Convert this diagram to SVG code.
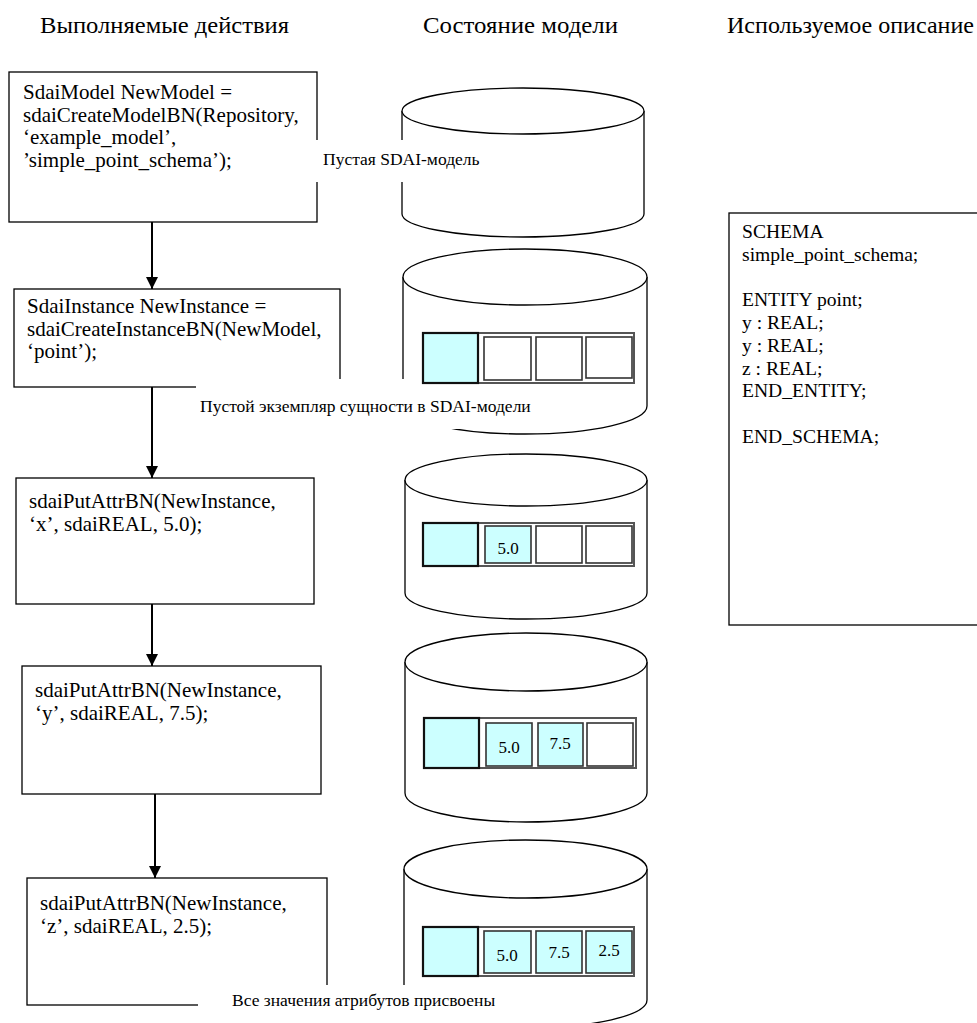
<svg xmlns="http://www.w3.org/2000/svg" width="977" height="1023" viewBox="0 0 977 1023">
  <style>
    .hdr { font-family: "Liberation Serif", "Times New Roman", serif; font-size: 23px; fill: #000; }
    .code { font-family: "Liberation Serif", "Times New Roman", serif; font-size: 21px; fill: #000; }
    .schema { font-family: "Liberation Serif", "Times New Roman", serif; font-size: 19.6px; fill: #000; }
    .note { font-family: "Liberation Serif", "Times New Roman", serif; font-size: 17.5px; fill: #000; }
    .val { font-family: "Liberation Serif", "Times New Roman", serif; font-size: 17px; fill: #000; text-anchor: middle; }
    .box { fill: #fff; stroke: #000; stroke-width: 1.3; }
    .can { fill: #fff; stroke: #000; stroke-width: 1.3; }
    .rec { fill: #fff; stroke: #555; stroke-width: 2; }
    .head { fill: #ccffff; stroke: #111; stroke-width: 2.2; }
    .cell { fill: #fff; stroke: #333; stroke-width: 1.6; }
    .cell.set { fill: #ccffff; }
    .flow { stroke: #000; stroke-width: 2; fill: none; marker-end: url(#arrow); }
    .mask { fill: #fff; stroke: none; }
  </style>
  <defs>
    <marker id="arrow" viewBox="0 0 10 10" refX="10" refY="5" markerWidth="6" markerHeight="6" markerUnits="strokeWidth" orient="auto">
      <path d="M0,0 L10,5 L0,10 z" fill="#000"/>
    </marker>
  </defs>

  <rect width="977" height="1023" fill="#fff"/>

  <!-- column headings -->
  <g id="headings">
    <text class="hdr" x="40" y="33" textLength="249" lengthAdjust="spacingAndGlyphs">Выполняемые действия</text>
    <text class="hdr" x="423" y="33" textLength="195" lengthAdjust="spacingAndGlyphs">Состояние модели</text>
    <text class="hdr" x="727" y="33" textLength="247" lengthAdjust="spacingAndGlyphs">Используемое описание</text>
  </g>

  <!-- model-state cylinders (bodies) -->
  <g id="db1">
    <path class="can" d="M402,111 L402,214 A121,23 0 0 0 644,214 L644,111"/>
    <ellipse class="can" cx="523" cy="111" rx="121" ry="23"/>
  </g>
  <g id="db2">
    <path class="can" d="M403,277 L403,406 A122,28 0 0 0 647,406 L647,277"/>
    <ellipse class="can" cx="525" cy="277" rx="122" ry="28"/>
  </g>
  <g id="db3">
    <path class="can" d="M405,480 L405,593 A121,26 0 0 0 647,593 L647,480"/>
    <ellipse class="can" cx="526" cy="480" rx="121" ry="26"/>
  </g>
  <g id="db4">
    <path class="can" d="M405,662 L405,793 A121,29 0 0 0 647,793 L647,662"/>
    <ellipse class="can" cx="526" cy="662" rx="121" ry="29"/>
  </g>
  <g id="db5">
    <path class="can" d="M404,869 L404,1000 A121.5,28 0 0 0 647,1000 L647,869"/>
    <ellipse class="can" cx="525.5" cy="869" rx="121.5" ry="29"/>
  </g>

  <!-- action boxes -->
  <g id="step1">
    <rect class="box" x="9" y="72" width="308" height="150"/>
    <text class="code" x="23" y="99">SdaiModel NewModel =</text>
    <text class="code" x="23" y="121.5">sdaiCreateModelBN(Repository,</text>
    <text class="code" x="23" y="144">‘example_model’,</text>
    <text class="code" x="23" y="166.5">’simple_point_schema’);</text>
  </g>
  <g id="step2">
    <rect class="box" x="14" y="289" width="326" height="98"/>
    <text class="code" x="27" y="313">SdaiInstance NewInstance =</text>
    <text class="code" x="27" y="335.5">sdaiCreateInstanceBN(NewModel,</text>
    <text class="code" x="27" y="358">‘point’);</text>
  </g>
  <g id="step3">
    <rect class="box" x="16" y="478" width="298" height="126"/>
    <text class="code" x="29" y="508">sdaiPutAttrBN(NewInstance,</text>
    <text class="code" x="29" y="531">‘x’, sdaiREAL, 5.0);</text>
  </g>
  <g id="step4">
    <rect class="box" x="22" y="666" width="299" height="128"/>
    <text class="code" x="35" y="697">sdaiPutAttrBN(NewInstance,</text>
    <text class="code" x="35" y="720">‘y’, sdaiREAL, 7.5);</text>
  </g>
  <g id="step5">
    <rect class="box" x="27" y="878" width="300" height="127"/>
    <text class="code" x="40" y="910">sdaiPutAttrBN(NewInstance,</text>
    <text class="code" x="40" y="933">‘z’, sdaiREAL, 2.5);</text>
  </g>

  <!-- schema description -->
  <g id="schema">
    <rect class="box" x="729" y="213" width="262" height="412"/>
    <text class="schema" x="742" y="238">SCHEMA</text>
    <text class="schema" x="742" y="260.75">simple_point_schema;</text>
    <text class="schema" x="742" y="306.25">ENTITY point;</text>
    <text class="schema" x="742" y="329">y : REAL;</text>
    <text class="schema" x="742" y="351.75">y : REAL;</text>
    <text class="schema" x="742" y="374.5">z : REAL;</text>
    <text class="schema" x="742" y="397.25">END_ENTITY;</text>
    <text class="schema" x="742" y="442.75">END_SCHEMA;</text>
  </g>

  <!-- flow connectors -->
  <g id="connectors">
    <line class="flow" x1="152" y1="222" x2="152" y2="289"/>
    <line class="flow" x1="152" y1="387" x2="152" y2="478"/>
    <line class="flow" x1="152" y1="604" x2="152" y2="666"/>
    <line class="flow" x1="155" y1="794" x2="155" y2="878"/>
  </g>

  <!-- state captions on white backing -->
  <g id="caption1">
    <rect class="mask" x="316" y="140" width="170" height="42"/>
    <text class="note" x="323" y="165">Пустая SDAI-модель</text>
  </g>
  <g id="caption2">
    <rect class="mask" x="196" y="379" width="352" height="50"/>
    <text class="note" x="200" y="412">Пустой экземпляр сущности в SDAI-модели</text>
  </g>
  <g id="caption3">
    <rect class="mask" x="198" y="985" width="348" height="38"/>
    <text class="note" x="232" y="1006">Все значения атрибутов присвоены</text>
  </g>

  <!-- entity instance records inside the cylinders -->
  <g id="record2">
    <rect class="rec" x="423" y="333" width="211" height="50"/>
    <rect class="head" x="423" y="333" width="55" height="50"/>
    <rect class="cell" x="484" y="337" width="47" height="43"/>
    <rect class="cell" x="536" y="337" width="46" height="43"/>
    <rect class="cell" x="586" y="337" width="46" height="41"/>
  </g>
  <g id="record3">
    <rect class="rec" x="423" y="523" width="211" height="43"/>
    <rect class="head" x="423" y="523" width="55" height="43"/>
    <rect class="cell set" x="485" y="526" width="46" height="37"/>
    <rect class="cell" x="536" y="526" width="46" height="37"/>
    <rect class="cell" x="586" y="526" width="46" height="37"/>
    <text class="val" x="508" y="554">5.0</text>
  </g>
  <g id="record4">
    <rect class="rec" x="424" y="718" width="212" height="50"/>
    <rect class="head" x="424" y="718" width="55" height="50"/>
    <rect class="cell set" x="486" y="723" width="46" height="43"/>
    <rect class="cell set" x="538" y="723" width="45" height="43"/>
    <rect class="cell" x="587" y="723" width="46" height="43"/>
    <text class="val" x="509" y="753">5.0</text>
    <text class="val" x="560" y="749">7.5</text>
  </g>
  <g id="record5">
    <rect class="rec" x="423" y="927" width="211" height="49"/>
    <rect class="head" x="423" y="927" width="55" height="49"/>
    <rect class="cell set" x="484" y="931" width="47" height="42"/>
    <rect class="cell set" x="536" y="931" width="46" height="42"/>
    <rect class="cell set" x="586" y="931" width="46" height="42"/>
    <text class="val" x="507" y="961">5.0</text>
    <text class="val" x="559" y="958">7.5</text>
    <text class="val" x="609" y="956">2.5</text>
  </g>
</svg>
